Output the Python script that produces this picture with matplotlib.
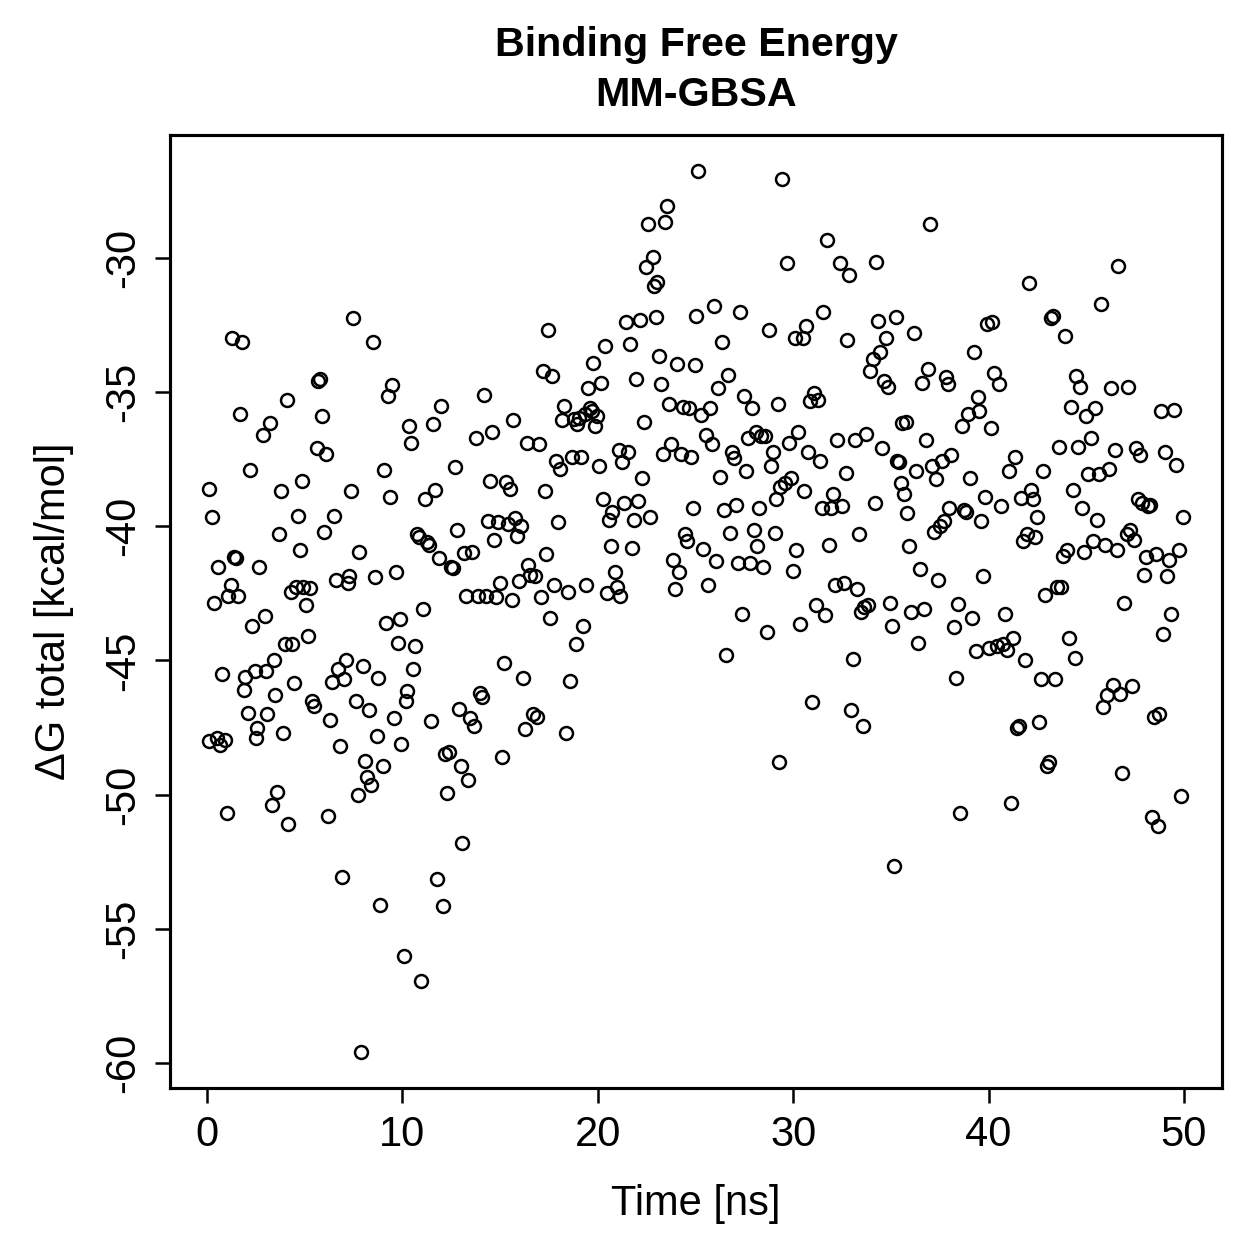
import matplotlib
matplotlib.use("Agg")
import matplotlib.pyplot as plt
import numpy as np

plt.rcParams['font.family'] = ['Liberation Sans', 'DejaVu Sans']

time_ns = [
 0.1,0.25,0.1,0.35,0.55,0.5,0.65,0.75,0.9,1.0,1.05,1.2,1.25,1.4,1.5,1.6,1.7,1.8,1.9,1.95,
 2.1,2.2,2.3,2.5,2.45,2.65,2.55,2.85,2.95,3.0,3.05,3.2,3.3,3.4,3.5,3.6,3.7,3.8,3.9,4.0,
 4.1,4.15,4.3,4.35,4.45,4.55,4.65,4.75,4.85,4.9,5.05,5.15,5.25,5.35,5.45,5.6,5.7,5.8,5.9,6.0,
 6.1,6.2,6.3,6.4,6.5,6.6,6.7,6.8,6.9,7.0,7.1,7.2,7.25,7.35,7.45,7.6,7.7,7.8,7.9,8.0,
 8.1,8.2,8.3,8.4,8.5,8.6,8.7,8.75,8.85,9.0,9.05,9.15,9.25,9.35,9.45,9.55,9.65,9.75,9.85,9.95,
 10.1,10.2,10.25,10.35,10.45,10.55,10.65,10.75,10.85,10.95,11.05,11.15,11.25,11.35,11.45,11.55,11.65,11.75,11.85,11.95,
 12.05,12.2,12.3,12.4,12.5,12.6,12.7,12.8,12.9,13.0,13.05,13.15,13.25,13.35,13.45,13.55,13.65,13.75,13.85,13.95,
 14.05,14.15,14.3,14.4,14.5,14.6,14.7,14.8,14.9,15.0,15.1,15.2,15.3,15.4,15.5,15.6,15.65,15.75,15.85,15.95,
 16.05,16.15,16.25,16.35,16.45,16.55,16.7,16.8,16.9,17.0,17.1,17.2,17.3,17.35,17.45,17.55,17.65,17.75,17.85,17.95,
 18.05,18.15,18.25,18.35,18.45,18.55,18.7,18.8,18.9,18.95,19.05,19.15,19.25,19.35,19.4,19.5,19.6,19.7,19.75,19.85,
 19.95,20.05,20.15,20.25,20.35,20.45,20.55,20.65,20.75,20.9,21.0,21.1,21.15,21.25,21.35,21.45,21.55,21.65,21.75,21.85,
 21.95,22.05,22.15,22.25,22.35,22.45,22.55,22.65,22.8,22.9,23.0,23.05,23.15,23.25,23.35,23.45,23.55,23.65,23.75,23.85,
 23.95,24.05,24.15,24.25,24.35,24.45,24.55,24.65,24.75,24.85,24.95,25.05,25.15,25.3,25.4,25.55,25.65,25.75,25.85,25.95,
 26.05,26.15,26.25,26.35,26.45,26.55,26.65,26.75,26.85,26.95,27.05,27.15,27.3,27.4,27.5,27.6,27.7,27.8,27.9,28.0,
 28.1,28.15,28.25,28.35,28.45,28.55,28.65,28.75,28.85,28.95,29.05,29.1,29.2,29.25,29.35,29.45,29.6,29.7,29.8,29.9,
 30.0,30.1,30.15,30.25,30.35,30.5,30.55,30.65,30.75,30.85,30.95,31.05,31.15,31.25,31.35,31.45,31.55,31.65,31.75,31.85,
 31.95,32.05,32.15,32.25,32.4,32.5,32.6,32.7,32.75,32.85,32.95,33.05,33.15,33.25,33.35,33.45,33.55,33.65,33.75,33.85,
 33.95,34.1,34.2,34.25,34.35,34.45,34.55,34.65,34.75,34.85,34.95,35.05,35.15,35.25,35.3,35.4,35.5,35.55,35.65,35.75,
 35.85,35.95,36.05,36.2,36.3,36.4,36.5,36.6,36.7,36.8,36.9,37.0,37.1,37.2,37.3,37.4,37.5,37.6,37.7,37.8,
 37.9,38.0,38.1,38.25,38.35,38.45,38.55,38.65,38.75,38.85,38.95,39.05,39.15,39.25,39.35,39.45,39.5,39.6,39.7,39.8,
 39.9,40.0,40.1,40.2,40.3,40.45,40.55,40.65,40.75,40.85,40.95,41.05,41.15,41.25,41.35,41.45,41.55,41.65,41.75,41.85,
 41.95,42.05,42.15,42.3,42.4,42.5,42.6,42.7,42.8,42.9,43.0,43.1,43.2,43.3,43.4,43.5,43.6,43.7,43.8,43.9,
 44.0,44.1,44.2,44.3,44.4,44.5,44.6,44.7,44.8,44.9,45.0,45.1,45.25,45.35,45.45,45.55,45.65,45.75,45.85,45.95,
 46.05,46.15,46.25,46.35,46.45,46.55,46.65,46.75,46.85,46.95,47.1,47.15,47.25,47.35,47.45,47.55,47.65,47.75,47.85,47.95,
 48.05,48.15,48.25,48.35,48.45,48.55,48.65,48.75,48.85,48.95,49.05,49.15,49.25,49.35,49.5,49.6,49.75,49.85,49.95,
]

dg_total = [
 -38.6,-39.65,-48.0,-42.85,-41.5,-47.9,-48.15,-45.5,-47.95,-50.7,-42.6,-42.2,-33.0,-41.15,-41.2,-42.6,-35.8,-33.15,-46.1,-45.6,
 -46.95,-37.9,-43.7,-47.9,-45.4,-41.5,-47.5,-36.6,-43.35,-45.4,-47.0,-36.15,-50.4,-45.0,-46.3,-49.9,-40.3,-38.7,-47.7,-44.4,
 -35.3,-51.1,-42.45,-44.4,-45.85,-42.25,-39.6,-40.9,-38.3,-42.25,-42.95,-44.1,-42.3,-46.5,-46.7,-37.1,-34.6,-34.5,-35.9,-40.2,
 -37.3,-50.8,-47.2,-45.8,-39.6,-42.0,-45.3,-48.2,-53.05,-45.7,-45.0,-42.1,-41.85,-38.7,-32.25,-46.5,-50.0,-40.95,-59.6,-45.2,
 -48.75,-49.35,-46.85,-49.65,-33.15,-41.9,-47.8,-45.65,-54.1,-48.95,-37.9,-43.6,-35.15,-38.9,-34.75,-47.15,-41.7,-44.35,-43.45,-48.1,
 -56.0,-46.5,-46.15,-36.25,-36.9,-45.3,-44.45,-40.3,-40.4,-56.95,-43.1,-39.0,-40.6,-40.7,-47.25,-36.2,-38.65,-53.15,-41.2,-35.5,
 -54.15,-48.5,-49.95,-48.4,-41.5,-41.55,-37.8,-40.15,-46.8,-48.95,-51.8,-41.0,-42.6,-49.45,-47.15,-40.95,-47.45,-36.7,-42.6,-46.2,
 -46.35,-35.1,-42.6,-39.8,-38.3,-36.5,-40.5,-42.65,-39.85,-42.1,-48.6,-45.1,-38.35,-39.9,-38.6,-42.75,-36.05,-39.7,-40.35,-42.05,
 -40.0,-45.65,-47.55,-36.9,-41.45,-41.8,-47.0,-41.85,-47.1,-36.95,-42.65,-34.2,-38.7,-41.05,-32.7,-43.4,-34.4,-42.2,-37.55,-39.85,
 -37.85,-36.05,-35.5,-47.7,-42.45,-45.75,-37.4,-36.0,-44.4,-36.2,-35.95,-37.4,-43.7,-35.8,-42.2,-34.85,-35.6,-35.7,-33.9,-36.25,
 -35.9,-37.75,-34.65,-39.0,-33.3,-42.5,-39.75,-40.75,-39.45,-41.7,-42.25,-37.15,-42.6,-37.6,-39.15,-32.4,-37.25,-33.2,-40.8,-39.75,
 -34.5,-39.05,-32.3,-38.2,-36.1,-30.35,-28.75,-39.65,-29.95,-31.05,-32.2,-30.9,-33.65,-34.7,-37.3,-28.65,-28.05,-35.45,-36.95,-41.25,
 -42.35,-33.95,-41.7,-37.3,-35.55,-40.3,-40.55,-35.6,-37.4,-39.3,-34.0,-32.15,-26.75,-35.85,-40.85,-36.6,-42.2,-35.6,-36.95,-31.8,
 -41.3,-34.85,-38.15,-33.15,-39.4,-44.8,-34.35,-40.25,-37.25,-37.45,-39.2,-41.35,-32.0,-43.25,-35.15,-37.95,-36.7,-41.35,-35.6,-40.15,
 -36.5,-40.75,-39.3,-36.65,-41.5,-36.65,-43.95,-32.7,-37.75,-37.25,-40.25,-39.0,-35.45,-48.8,-38.55,-27.05,-38.4,-30.2,-36.9,-38.2,
 -41.65,-33.0,-40.9,-36.5,-43.65,-33.0,-38.7,-32.55,-37.25,-35.35,-46.55,-35.05,-42.95,-35.3,-37.55,-39.3,-32.0,-43.3,-29.35,-40.7,
 -39.3,-38.8,-42.2,-36.8,-30.2,-39.25,-42.1,-38.0,-33.05,-30.65,-46.85,-44.95,-36.8,-42.35,-40.3,-43.2,-47.45,-43.0,-36.55,-42.95,
 -34.2,-33.75,-39.15,-30.15,-32.35,-33.5,-37.1,-34.6,-33.0,-34.8,-42.85,-43.7,-52.65,-32.2,-37.55,-37.6,-38.4,-36.15,-38.8,-36.1,
 -39.5,-40.75,-43.2,-32.8,-37.95,-44.35,-41.6,-34.65,-43.1,-36.8,-34.15,-28.75,-37.75,-40.2,-38.25,-42.0,-40.0,-37.55,-39.8,-34.45,
 -34.7,-39.3,-37.35,-43.75,-45.65,-42.9,-50.7,-36.25,-39.4,-39.45,-35.8,-38.2,-43.4,-33.5,-44.65,-35.2,-35.7,-39.8,-41.85,-38.9,
 -32.45,-44.55,-36.35,-32.4,-34.3,-44.45,-34.7,-39.25,-44.4,-43.25,-44.6,-37.95,-50.3,-44.15,-37.4,-47.5,-47.45,-38.95,-40.55,-45.0,
 -40.3,-30.95,-38.65,-39.0,-40.4,-39.65,-47.3,-45.7,-37.95,-42.55,-48.95,-48.8,-32.25,-32.15,-45.7,-42.25,-37.05,-42.25,-41.1,-32.9,
 -40.9,-44.15,-35.55,-38.65,-44.9,-34.4,-37.05,-34.8,-39.3,-40.95,-35.9,-38.05,-36.7,-40.55,-35.6,-39.75,-38.05,-31.7,-46.75,-40.7,
 -46.3,-37.85,-34.85,-45.9,-37.15,-40.9,-30.3,-46.25,-49.2,-42.85,-40.3,-34.8,-40.15,-45.95,-40.5,-37.1,-39.0,-37.35,-39.15,-41.8,
 -41.15,-39.25,-39.2,-50.85,-47.1,-41.05,-51.15,-47.0,-35.7,-44.0,-37.25,-41.85,-41.25,-43.25,-35.65,-37.7,-40.9,-50.05,-39.65,
]

x_ticks = [0, 10, 20, 30, 40, 50]
y_ticks = [-60, -55, -50, -45, -40, -35, -30]

W = 1259
fig = plt.figure(figsize=(W / 300, W / 300), dpi=300)
ax = fig.add_axes([170 / W, 1 - 1088 / W, (1222 - 170) / W, (1088 - 135) / W])

ax.plot(time_ns, dg_total, linestyle='none', marker='o', markersize=3.1,
        markerfacecolor='none', markeredgecolor='black', markeredgewidth=0.6)

ax.set_xlim(-1.9, 51.95)
ax.set_ylim(-60.93, -25.42)

ax.set_xticks(x_ticks)
ax.set_yticks(y_ticks)
ax.set_yticklabels([str(t) for t in y_ticks], rotation=90, va='center')
ax.tick_params(direction='out', length=3.5, width=0.6, labelsize=10, pad=3)
for s in ax.spines.values():
    s.set_linewidth(0.75)

ax.set_xlabel('Time [ns]', fontsize=10, labelpad=7)
ax.set_ylabel('ΔG total [kcal/mol]', fontsize=10, labelpad=7)
fig.text(0.553, 1 - 45 / W, 'Binding Free Energy', ha='center', va='center',
         fontsize=9.9, fontweight='bold')
fig.text(0.553, 1 - 95 / W, 'MM-GBSA', ha='center', va='center',
         fontsize=9.9, fontweight='bold')

fig.savefig('out.png', dpi=300)
